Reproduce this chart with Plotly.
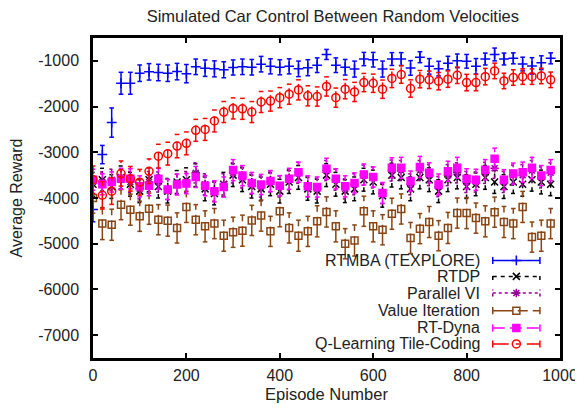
import plotly.graph_objects as go

episodes = list(range(0, 1000, 20))

rtmba = [-4250, -3050, -2350, -1490, -1490, -1270, -1240, -1255, -1270, -1235,
         -1280, -1130, -1160, -1175, -1195, -1145, -1130, -1140, -1072, -1120,
         -1140, -1120, -1175, -1150, -1095, -860, -1095, -1140, -1180, -960,
         -975, -1180, -960, -960, -1155, -920, -1120, -1170, -1050, -1000,
         -1010, -1120, -960, -860, -960, -945, -1070, -1110, -1040, -945]
rtmba_err = [270, 200, 320, 240, 240, 180, 180, 180, 180, 180,
             200, 170, 180, 175, 175, 165, 170, 170, 170, 165,
             165, 165, 170, 175, 160, 110, 160, 170, 175, 145,
             160, 175, 140, 140, 160, 120, 170, 160, 150, 150,
             150, 170, 130, 140, 130, 120, 150, 180, 150, 120]

rtdp = [-3700, -3600, -3750, -3550, -3700, -3850, -3600, -3750, -3850, -3650,
        -3600, -3500, -3800, -3900, -3700, -3500, -3600, -3750, -3800, -3700,
        -3850, -3650, -3550, -3800, -3850, -3500, -3700, -3850, -3800, -3600,
        -3650, -3950, -3500, -3550, -3800, -3550, -3600, -3850, -3600, -3550,
        -3750, -3700, -3550, -3650, -3750, -3650, -3700, -3600, -3650, -3700]
rtdp_err = [260, 250, 260, 250, 260, 250, 260, 250, 260, 250,
            260, 250, 260, 250, 260, 250, 260, 250, 260, 250,
            260, 250, 260, 250, 260, 250, 260, 250, 260, 250,
            260, 250, 260, 250, 260, 250, 260, 250, 260, 250,
            260, 250, 260, 250, 260, 250, 260, 250, 260, 250]

parallel_vi = [-3650, -3650, -3600, -3600, -3650, -3800, -3650, -3650, -3800, -3700,
               -3650, -3450, -3700, -3850, -3700, -3450, -3550, -3700, -3750, -3650,
               -3750, -3600, -3450, -3750, -3800, -3400, -3600, -3800, -3700, -3500,
               -3550, -3900, -3400, -3400, -3700, -3400, -3500, -3750, -3500, -3450,
               -3650, -3650, -3450, -3350, -3650, -3500, -3500, -3400, -3550, -3450]
parallel_vi_err = [230, 220, 230, 220, 230, 220, 230, 220, 230, 220,
                   230, 220, 230, 220, 230, 220, 230, 220, 230, 220,
                   230, 220, 230, 220, 230, 220, 230, 220, 230, 220,
                   230, 220, 230, 220, 230, 220, 230, 220, 230, 220,
                   230, 220, 230, 220, 230, 220, 230, 220, 230, 220]

value_iter = [-4000, -4560, -4585, -4145, -4255, -4400, -4235, -4475, -4495, -4655,
              -4195, -4475, -4620, -4560, -4825, -4750, -4715, -4490, -4385, -4730,
              -4290, -4655, -4825, -4730, -4510, -4305, -4620, -5000, -4930, -4290,
              -4620, -4695, -4345, -4240, -4875, -4670, -4525, -4825, -4655, -4330,
              -4330, -4440, -4510, -4310, -4525, -4560, -4195, -4855, -4825, -4560]
value_iter_err = [330, 350, 340, 330, 340, 330, 340, 330, 340, 330,
                  340, 330, 340, 330, 340, 330, 340, 330, 340, 330,
                  340, 330, 340, 330, 340, 330, 340, 330, 340, 330,
                  340, 330, 340, 330, 340, 330, 340, 330, 340, 330,
                  340, 330, 340, 330, 340, 330, 340, 330, 340, 330]

rt_dyna = [-3600, -3700, -3650, -3580, -3580, -3745, -3730, -3580, -3815, -3705,
           -3685, -3540, -3730, -3855, -3760, -3390, -3510, -3670, -3705, -3630,
           -3730, -3580, -3435, -3745, -3760, -3360, -3580, -3745, -3670, -3485,
           -3540, -3890, -3340, -3340, -3630, -3320, -3450, -3705, -3415, -3340,
           -3580, -3600, -3380, -3140, -3600, -3465, -3435, -3340, -3510, -3390]
rt_dyna_err = [230, 230, 220, 230, 220, 230, 220, 230, 220, 230,
               220, 230, 220, 230, 220, 230, 220, 230, 220, 230,
               220, 230, 220, 230, 220, 230, 220, 230, 220, 230,
               220, 230, 220, 230, 220, 230, 220, 230, 220, 230,
               220, 230, 220, 230, 220, 230, 220, 230, 220, 230]

qlearn = [-3600, -3940, -3850, -3465, -3580, -3655, -3415, -3085, -3030, -2865,
          -2805, -2520, -2500, -2315, -2120, -2040, -2050, -2120, -1900, -1880,
          -1805, -1730, -1635, -1765, -1780, -1560, -1805, -1620, -1680, -1475,
          -1490, -1620, -1385, -1300, -1605, -1400, -1415, -1445, -1400, -1315,
          -1475, -1475, -1345, -1220, -1440, -1365, -1345, -1345, -1330, -1415]
qlearn_err = [300, 300, 290, 275, 270, 280, 270, 260, 250, 255,
              250, 240, 240, 240, 230, 230, 230, 230, 230, 220,
              220, 220, 220, 220, 210, 210, 210, 210, 210, 200,
              200, 200, 200, 190, 190, 190, 190, 190, 180, 180,
              180, 180, 180, 170, 170, 170, 170, 170, 170, 170]

series_names = ["RTMBA (TEXPLORE)", "RTDP", "Parallel VI", "Value Iteration",
                "RT-Dyna", "Q-Learning Tile-Coding"]
series_values = [rtmba, rtdp, parallel_vi, value_iter, rt_dyna, qlearn]
series_errors = [rtmba_err, rtdp_err, parallel_vi_err, value_iter_err, rt_dyna_err, qlearn_err]

y_ticks = [-7000, -6000, -5000, -4000, -3000, -2000, -1000]
y_tick_labels = ["-7000", "-6000", "-5000", "-4000", "-3000", "-2000", "-1000"]
x_ticks = [0, 200, 400, 600, 800, 1000]
x_tick_labels = ["0", "200", "400", "600", "800", "1000"]

styles = [
    dict(color="#0000ff", dash="solid", symbol="cross-thin", size=7),
    dict(color="#000000", dash="4px,4px", symbol="x-thin", size=7),
    dict(color="#940094", dash="3px,3px", symbol="asterisk-open", size=7),
    dict(color="#8b4513", dash="20px,5px,10px,5px", symbol="square-open", size=7),
    dict(color="#ff00ff", dash="12px,5px", symbol="square", size=7),
    dict(color="#ff0000", dash="16px,7px,4px,7px", symbol="circle-open", size=8),
]

CAP = 5  # half cap width in episode units
FONT = "Liberation Sans, Arial, sans-serif"
TXT = "#222222"

# the page body has an 8px margin, so the figure is sized to fit inside it
W, H = 575, 401

fig = go.Figure()

for name, vals, errs, st in zip(series_names, series_values, series_errors, styles):
    bx, by = [], []
    for x, y, e in zip(episodes, vals, errs):
        bx += [x, x, None, x - CAP, x + CAP, None, x - CAP, x + CAP, None]
        by += [y - e, y + e, None, y - e, y - e, None, y + e, y + e, None]
    fig.add_trace(go.Scatter(x=bx, y=by, mode="lines", showlegend=False, hoverinfo="skip",
                             line=dict(color=st["color"], width=1.5, dash=st["dash"])))
    mk = dict(symbol=st["symbol"], size=st["size"], color=st["color"],
              line=dict(color=st["color"], width=1.5))
    fig.add_trace(go.Scatter(x=episodes, y=vals, mode="markers", name=name,
                             showlegend=False, marker=mk))

# custom gnuplot-style key (text right-aligned, sample to the right)
key_rows = [0.305, 0.255, 0.203, 0.148, 0.094, 0.044]
kx0, kx1, ktext = 0.856, 0.957, 0.833
for name, st, ky in zip(series_names, styles, key_rows):
    fig.add_trace(go.Scatter(
        x=[kx0, kx1, None, kx0, kx0, None, kx1, kx1],
        y=[ky, ky, None, ky - 0.011, ky + 0.011, None, ky - 0.011, ky + 0.011],
        xaxis="x2", yaxis="y2", mode="lines", showlegend=False, hoverinfo="skip",
        line=dict(color=st["color"], width=1.5, dash=st["dash"])))
    fig.add_trace(go.Scatter(
        x=[(kx0 + kx1) / 2], y=[ky], xaxis="x2", yaxis="y2", mode="markers",
        showlegend=False, hoverinfo="skip",
        marker=dict(symbol=st["symbol"], size=st["size"], color=st["color"],
                    line=dict(color=st["color"], width=1.5))))
    fig.add_annotation(text=name, xref="paper", yref="paper", x=ktext, y=ky,
                       xanchor="right", yanchor="middle", showarrow=False,
                       font=dict(family=FONT, size=16, color=TXT))

fig.update_layout(
    width=W, height=H,
    margin=dict(l=85, r=23, t=30, b=51),
    paper_bgcolor="white", plot_bgcolor="white",
    showlegend=False,
    title=dict(text="Simulated Car Control Between Random Velocities",
               x=0.565, xanchor="center", y=0.98, yanchor="middle",
               font=dict(family=FONT, size=16.5, color=TXT)),
    font=dict(family=FONT, size=16, color=TXT),
    xaxis=dict(range=[0, 1000], tickvals=x_ticks, ticktext=x_tick_labels,
               ticks="inside", ticklen=5, tickwidth=1.5, tickcolor="black",
               showline=True, linewidth=2.5, linecolor="black", mirror="allticks",
               showgrid=False, zeroline=False, automargin=False, ticklabelstandoff=1,
               title=dict(text="Episode Number", standoff=6,
                          font=dict(family=FONT, size=16.5, color=TXT)),
               tickfont=dict(family=FONT, size=16, color=TXT)),
    yaxis=dict(range=[-7500, -500], tickvals=y_ticks, ticktext=y_tick_labels,
               ticks="inside", ticklen=5, tickwidth=1.5, tickcolor="black",
               showline=True, linewidth=2.5, linecolor="black", mirror="allticks",
               showgrid=False, zeroline=False, automargin=False, ticklabelstandoff=8,
               title=dict(text="Average Reward", standoff=12,
                          font=dict(family=FONT, size=16, color=TXT)),
               tickfont=dict(family=FONT, size=16, color=TXT)),
    xaxis2=dict(overlaying="x", range=[0, 1], visible=False, fixedrange=True),
    yaxis2=dict(overlaying="y", range=[0, 1], visible=False, fixedrange=True),
)

fig.write_html("out.html")
